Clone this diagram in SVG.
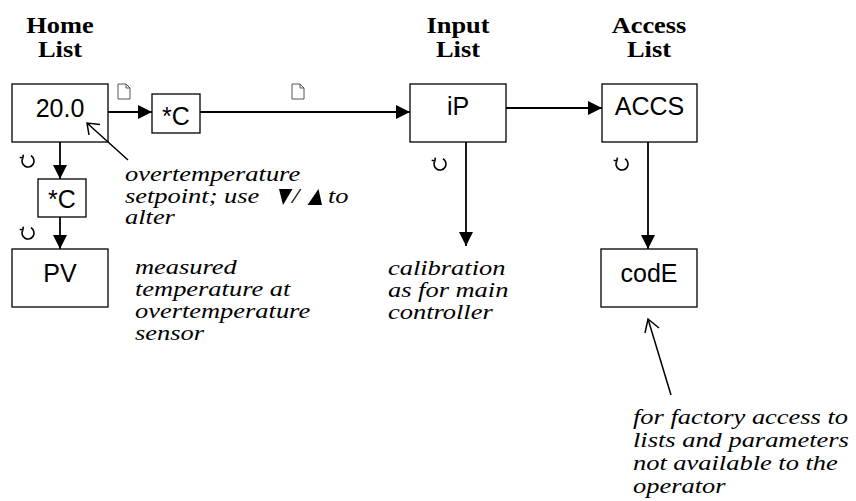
<svg xmlns="http://www.w3.org/2000/svg" width="856" height="501" viewBox="0 0 856 501">
<style>
.box{fill:#fff;stroke:#000;stroke-width:1.3}
.lbl{font-family:"Liberation Sans",Arial,sans-serif;font-size:25px;text-anchor:middle;fill:#000}
.hdr{font-family:"Liberation Serif","Times New Roman",serif;font-weight:bold;font-size:24px;text-anchor:middle;fill:#000}
.note{font-family:"Liberation Serif","Times New Roman",serif;font-style:italic;font-size:20.5px;fill:#000}
.conn{stroke:#000;stroke-width:1.8;fill:none}
.ptr{stroke:#000;stroke-width:1.5;fill:none}
.doc{fill:#fff;stroke:#555;stroke-width:1}
.cyc{fill:none;stroke:#000;stroke-width:1.6}
</style>
<defs>
<marker id="ah" markerUnits="userSpaceOnUse" markerWidth="16" markerHeight="16" refX="14" refY="7" orient="auto">
<path d="M0,0 L14,7 L0,14 z" fill="#000"/>
</marker>
<g id="docicon"><path class="doc" d="M0,0 h8 l4,4 v11 h-12 z M8,0 v4 h4"/></g>
<g id="cycicon"><path class="cyc" d="M3,-5.2 A6,6 0 1 1 -5.2,-3 M-8.3,-3.8 L-5.2,-3 L-4.6,-6.4"/></g>
</defs>

<g id="headers">
<g transform="translate(60,33) scale(1.1,1)"><text class="hdr" x="0" y="0">Home</text></g>
<g transform="translate(60,57) scale(1.1,1)"><text class="hdr" x="0" y="0">List</text></g>
<g transform="translate(458,33) scale(1.1,1)"><text class="hdr" x="0" y="0">Input</text></g>
<g transform="translate(458,57) scale(1.1,1)"><text class="hdr" x="0" y="0">List</text></g>
<g transform="translate(649,33) scale(1.1,1)"><text class="hdr" x="0" y="0">Access</text></g>
<g transform="translate(649,57) scale(1.1,1)"><text class="hdr" x="0" y="0">List</text></g>
</g>

<g id="icons">
<use href="#docicon" x="118" y="84"/>
<use href="#docicon" x="292" y="84"/>
<use href="#cycicon" x="28" y="161"/>
<use href="#cycicon" x="28" y="233"/>
<use href="#cycicon" x="440" y="164"/>
<use href="#cycicon" x="622" y="164"/>
</g>

<g id="n-home">
<rect class="box" x="12" y="84" width="96" height="58"/>
<text class="lbl" x="60" y="117">20.0</text>
</g>
<g id="n-unit1">
<rect class="box" x="152" y="94" width="48" height="39"/>
<text class="lbl" x="176" y="125">*C</text>
</g>
<g id="n-unit2">
<rect class="box" x="38" y="179" width="48" height="38"/>
<text class="lbl" x="62" y="208">*C</text>
</g>
<g id="n-pv">
<rect class="box" x="12" y="249" width="96" height="58"/>
<text class="lbl" x="60" y="282">PV</text>
</g>
<g id="n-ip">
<rect class="box" x="410" y="84" width="96" height="58"/>
<text class="lbl" x="458" y="115">iP</text>
</g>
<g id="n-accs">
<rect class="box" x="602" y="84" width="95" height="58"/>
<text class="lbl" x="649.5" y="115">ACCS</text>
</g>
<g id="n-code">
<rect class="box" x="601" y="249" width="96" height="58"/>
<text class="lbl" x="649" y="282">codE</text>
</g>

<g id="connectors">
<line class="conn" x1="108" y1="112" x2="152" y2="112" marker-end="url(#ah)"/>
<line class="conn" x1="200" y1="112" x2="410" y2="112" marker-end="url(#ah)"/>
<line class="conn" x1="506" y1="108" x2="602" y2="108" marker-end="url(#ah)"/>
<line class="conn" x1="60" y1="142" x2="60" y2="179" marker-end="url(#ah)"/>
<line class="conn" x1="60" y1="217" x2="60" y2="249" marker-end="url(#ah)"/>
<line class="conn" x1="466" y1="142" x2="466" y2="246" marker-end="url(#ah)"/>
<line class="conn" x1="648" y1="142" x2="648" y2="249" marker-end="url(#ah)"/>
<path class="ptr" d="M128,160 L87,123 M100,124.5 L87,123 L89,135"/>
<path class="ptr" d="M671,395 L648,319 M645,333 L648,319 L659,328"/>
</g>

<g id="notes">
<text class="note" transform="translate(125,181) scale(1.29,1)">overtemperature</text>
<text class="note" transform="translate(125,203) scale(1.29,1)">setpoint; use</text>
<polygon points="279,189 292.5,189 283,205" fill="#000"/>
<text class="note" transform="translate(292,203) scale(1.29,1)">/</text>
<polygon points="307.5,205 322,205 318.5,189" fill="#000"/>
<text class="note" transform="translate(328,203) scale(1.29,1)">to</text>
<text class="note" transform="translate(125,224) scale(1.29,1)">alter</text>

<text class="note" transform="translate(135,274) scale(1.29,1)">measured</text>
<text class="note" transform="translate(135,296) scale(1.29,1)">temperature at</text>
<text class="note" transform="translate(135,318) scale(1.29,1)">overtemperature</text>
<text class="note" transform="translate(135,340) scale(1.29,1)">sensor</text>

<text class="note" transform="translate(388,275) scale(1.29,1)">calibration</text>
<text class="note" transform="translate(388,297) scale(1.29,1)">as for main</text>
<text class="note" transform="translate(388,319) scale(1.29,1)">controller</text>

<text class="note" transform="translate(633,424) scale(1.29,1)">for factory access to</text>
<text class="note" transform="translate(633,447) scale(1.29,1)">lists and parameters</text>
<text class="note" transform="translate(633,470) scale(1.29,1)">not available to the</text>
<text class="note" transform="translate(633,493) scale(1.29,1)">operator</text>
</g>
</svg>
